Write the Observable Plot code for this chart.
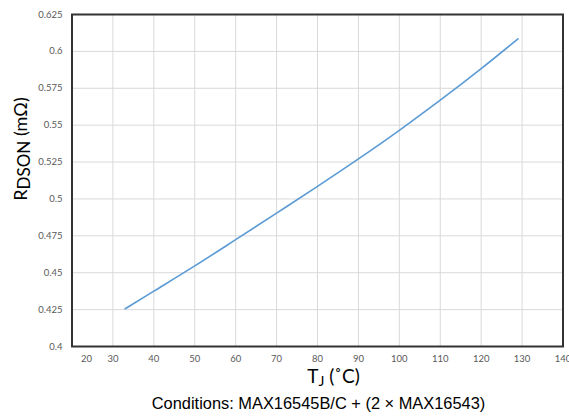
<!DOCTYPE html>
<html>
<head>
<meta charset="utf-8">
<script src="https://cdn.jsdelivr.net/npm/d3@7"></script>
<script src="https://cdn.jsdelivr.net/npm/@observablehq/plot@0.6"></script>
<style>
  html, body { margin: 0; padding: 0; background: #fff; width: 569px; height: 416px; overflow: hidden; }
  #chart { position: relative; width: 569px; height: 416px; }
  .xtitle { position: absolute; left: 0; width: 569px; top: 364px; text-align: center; padding-left: 98px; box-sizing: border-box;
            font-family: Lato, "Open Sans", sans-serif; font-size: 19px; color: #000; }
  .xtitle sub { font-size: 14px; vertical-align: -3px; }
  .caption { position: absolute; left: 0; width: 569px; top: 394px; text-align: center; padding-left: 68px; box-sizing: border-box;
             font-family: "Liberation Sans", Arial, sans-serif; font-size: 16.4px; color: #000; }
</style>
</head>
<body>
<div id="chart"></div>
<script>
// Data
const tempC = [33, 40, 50, 60, 70, 80, 90, 100, 110, 120, 129];
const rdson = [0.4256, 0.4375, 0.4546, 0.4724, 0.4904, 0.5085, 0.5271, 0.5465, 0.5669, 0.5883, 0.6085];
const xTicks = [20, 30, 40, 50, 60, 70, 80, 90, 100, 110, 120, 130, 140];
const yTicks = [0.4, 0.425, 0.45, 0.475, 0.5, 0.525, 0.55, 0.575, 0.6, 0.625];

const data = tempC.map((t, i) => ({t, r: rdson[i]}));

const tickFont = "Lato, 'Open Sans', sans-serif";

const plot = Plot.plot({
  width: 569,
  height: 368,
  marginLeft: 71.5,
  marginRight: 6.5,
  marginTop: 14,
  marginBottom: 22,
  style: {fontFamily: tickFont, fontSize: "9.5px", color: "#595959", background: "#fff", overflow: "visible"},
  x: {domain: [20, 140]},
  y: {domain: [0.4, 0.625]},
  marks: [
    Plot.gridX(xTicks.slice(1, -1), {stroke: "#d9d9d9", strokeOpacity: 1, strokeWidth: 1}),
    Plot.gridY(yTicks.slice(1, -1), {stroke: "#d9d9d9", strokeOpacity: 1, strokeWidth: 1}),
    Plot.axisX([xTicks[0]], {tickSize: 0, tickPadding: 9, label: null, dx: 14.5, fill: "#595959"}),
    Plot.axisX(xTicks.slice(1), {tickSize: 0, tickPadding: 9, label: null, fill: "#595959"}),
    Plot.axisY(yTicks, {tickSize: 0, tickPadding: 9.5, label: null, tickFormat: d => String(+d.toFixed(3)), fill: "#595959"}),
    Plot.frame({stroke: "#333", strokeWidth: 2}),
    Plot.line(data, {x: "t", y: "r", stroke: "#5b9bd5", strokeWidth: 1.6, curve: "monotone-x"})
  ]
});

const chart = document.getElementById("chart");
chart.appendChild(plot);

// Y-axis title with subscript
const svg = d3.select(plot);
const yt = svg.append("text")
  .attr("transform", "translate(27,149) rotate(-90)")
  .attr("text-anchor", "middle")
  .attr("font-family", "Lato, 'Open Sans', sans-serif")
  .attr("font-size", 18)
  .attr("fill", "#000");
yt.append("tspan").text("R");
yt.append("tspan").attr("font-size", 17).attr("dy", 3).text("DSON");
yt.append("tspan").attr("dy", -3).text(" (mΩ)");

const xt = document.createElement("div");
xt.className = "xtitle";
xt.innerHTML = "T<sub>J</sub> (˚C)";
chart.appendChild(xt);

const cap = document.createElement("div");
cap.className = "caption";
cap.textContent = "Conditions: MAX16545B/C + (2 × MAX16543)";
chart.appendChild(cap);
</script>
</body>
</html>
